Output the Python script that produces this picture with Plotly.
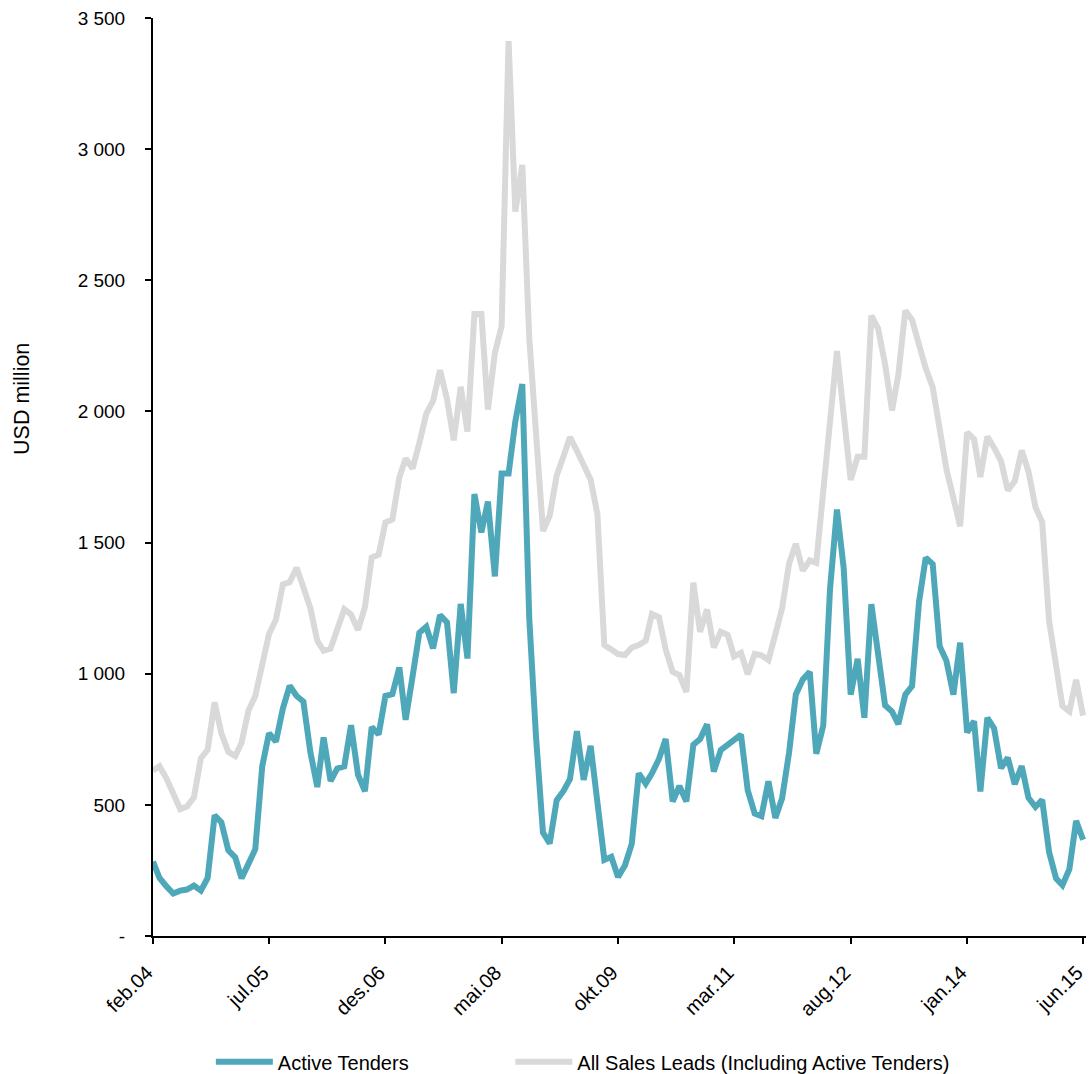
import pandas as pd
import plotly.graph_objects as go

# monthly observations, feb.04 .. jun.15
months = pd.date_range("2004-02-01", "2015-06-01", freq="MS")

active_tenders = [
    284, 221, 189, 162, 173, 177, 192, 173, 221, 460,
    434, 327, 300, 220, 276, 331, 647, 773, 741, 868,
    954, 915, 894, 702, 568, 757, 591, 639, 647, 804,
    615, 552, 797, 768, 915, 922, 1024, 824, 990, 1156,
    1179, 1097, 1223, 1196, 926, 1266, 1058, 1685, 1539, 1656,
    1371, 1763, 1763, 1962, 2104, 1211, 760, 394, 353, 518,
    554, 598, 781, 595, 725, 511, 290, 302, 225, 270,
    351, 620, 581, 620, 675, 751, 513, 572, 513, 729,
    751, 807, 627, 709, 729, 751, 768, 555, 467, 457,
    590, 450, 525, 700, 921, 978, 1007, 695, 802, 1321,
    1626, 1402, 920, 1057, 832, 1265, 1089, 880, 856, 808,
    920, 953, 1273, 1442, 1418, 1105, 1049, 920, 1118, 776,
    819, 551, 832, 792, 640, 680, 579, 648, 527, 492,
    519, 319, 219, 194, 255, 439, 367,
]

all_sales_leads = [
    631, 647, 600, 545, 484, 494, 528, 678, 710, 891,
    773, 702, 686, 737, 860, 915, 1025, 1151, 1207, 1341,
    1349, 1404, 1330, 1250, 1125, 1088, 1096, 1170, 1246, 1226,
    1167, 1254, 1443, 1454, 1577, 1588, 1748, 1821, 1782, 1880,
    1992, 2040, 2157, 2047, 1890, 2094, 1923, 2371, 2371, 2007,
    2223, 2325, 3412, 2762, 2940, 2281, 1920, 1544, 1603, 1756,
    1830, 1902, 1850, 1800, 1740, 1610, 1109, 1092, 1075, 1071,
    1100, 1109, 1126, 1228, 1216, 1092, 1007, 995, 930, 1347,
    1160, 1245, 1100, 1160, 1148, 1066, 1080, 998, 1075, 1070,
    1052, 1150, 1250, 1420, 1495, 1393, 1432, 1423, 1721, 1960,
    2230, 1975, 1739, 1827, 1827, 2365, 2316, 2180, 2004, 2140,
    2385, 2349, 2244, 2164, 2092, 1935, 1780, 1670, 1562, 1920,
    1894, 1750, 1904, 1862, 1811, 1699, 1734, 1851, 1771, 1635,
    1578, 1200, 1030, 877, 856, 977, 840,
]

x_tick_dates = ["2004-02-01", "2005-07-01", "2006-12-01", "2008-05-01", "2009-10-01",
                "2011-03-01", "2012-08-01", "2014-01-01", "2015-06-01"]
x_tick_labels = ["feb.04", "jul.05", "des.06", "mai.08", "okt.09",
                 "mar.11", "aug.12", "jan.14", "jun.15"]
y_tick_vals = [0, 500, 1000, 1500, 2000, 2500, 3000, 3500]
y_tick_labels = ["-", "500", "1 000", "1 500", "2 000", "2 500", "3 000", "3 500"]

FONT = "Liberation Sans, Arial, sans-serif"

fig = go.Figure()

# grey series goes first so the teal one sits on top
fig.add_trace(go.Scatter(
    x=months, y=all_sales_leads, mode="lines",
    name="All Sales Leads (Including Active Tenders)",
    line=dict(color="#D9D9D9", width=6), legend="legend2",
))
fig.add_trace(go.Scatter(
    x=months, y=active_tenders, mode="lines",
    name="Active Tenders",
    line=dict(color="#4FA8BA", width=6), legend="legend",
))

fig.update_layout(
    width=1089, height=1074,
    margin=dict(l=153, r=3, t=18, b=138, autoexpand=False),
    paper_bgcolor="white", plot_bgcolor="white",
    font=dict(family=FONT, size=19, color="black"),
    showlegend=True,
    legend=dict(orientation="h", x=0.062, xanchor="left", y=-0.137, yanchor="middle",
                itemwidth=57, font=dict(size=20)),
    legend2=dict(orientation="h", x=0.383, xanchor="left", y=-0.137, yanchor="middle",
                 itemwidth=57, font=dict(size=20)),
    annotations=[dict(
        text="USD million", textangle=-90, showarrow=False,
        xref="paper", yref="paper", x=-0.1404, y=0.585,
        xanchor="center", yanchor="middle", font=dict(size=21.5),
    )],
)

fig.update_xaxes(
    range=["2004-02-01", "2015-06-14"],
    tickvals=x_tick_dates, ticktext=x_tick_labels, tickangle=-45,
    showline=True, linecolor="black", linewidth=2,
    ticks="outside", ticklen=6, tickcolor="black", tickwidth=2,
    showgrid=False, zeroline=False, tickfont=dict(size=20),
    ticklabelstandoff=9, ticklabelshift=-6, ticklabeloverflow="allow",
)
fig.update_yaxes(
    range=[0, 3500],
    tickvals=y_tick_vals, ticktext=y_tick_labels,
    showline=True, linecolor="black", linewidth=2,
    ticks="outside", ticklen=6, tickcolor="black", tickwidth=2,
    showgrid=False, zeroline=False, tickfont=dict(size=19),
    ticklabelstandoff=16,
)

# drop the default page margin so the chart fills the window exactly
fig.write_html("out.html", config={"displayModeBar": False},
               post_script="document.body.style.margin='0';document.body.style.overflow='hidden';")
